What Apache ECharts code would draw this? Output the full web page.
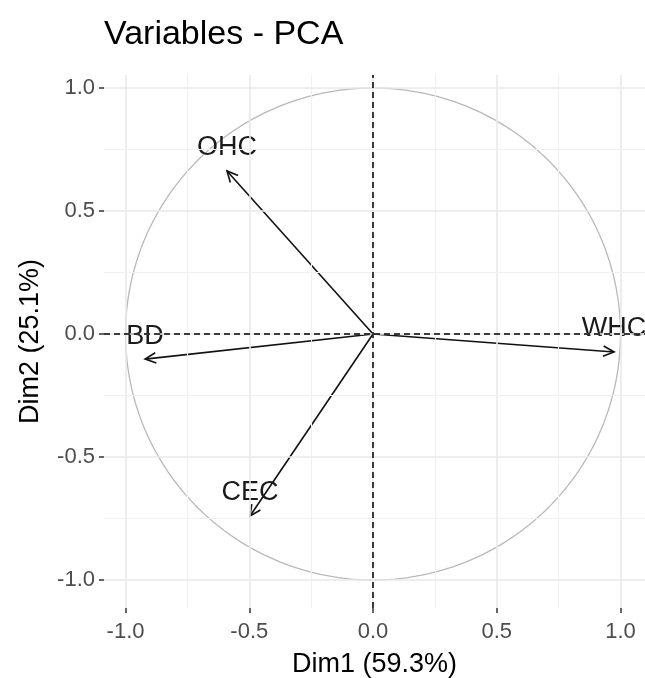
<!DOCTYPE html>
<html>
<head>
<meta charset="utf-8">
<script src="https://cdn.jsdelivr.net/npm/echarts@6/dist/echarts.min.js"></script>
<style>
html,body{margin:0;padding:0;background:#fff}
#main{width:645px;height:678px}
</style>
</head>
<body>
<div id="main"></div>
<script>
// === 資料 ===
const varNames=['OHC','BD','WHC','CEC'];
const dim1=[-0.59,-0.921,0.974,-0.497];
const dim2=[0.663,-0.102,-0.073,-0.74];
const majorTicks=[-1,-0.5,0,0.5,1];
const minorTicks=[-0.75,-0.25,0.25,0.75];

const FONT='"Liberation Sans", Arial, sans-serif';

// 相關圓 (半徑 1)
const circlePts=[];
for(let i=0;i<=360;i++){
  const a=i*Math.PI/180;
  circlePts.push([Math.cos(a),Math.sin(a)]);
}

function gridMarks(axisKey){
  const out=[];
  minorTicks.forEach(v=>out.push({[axisKey]:v,lineStyle:{color:'#f0f0f0',width:1,type:'solid'}}));
  majorTicks.forEach(v=>out.push({[axisKey]:v,lineStyle:{color:'#e9e9e9',width:1.6,type:'solid'}}));
  return out;
}

function axisCommon(){
  return {
    type:'value',
    axisLine:{show:false,onZero:false},
    axisTick:{show:true,inside:false,length:5,customValues:majorTicks,lineStyle:{color:'#333',width:1.5}},
    axisLabel:{customValues:majorTicks,color:'#4d4d4d',fontFamily:FONT,fontSize:22,
      formatter:v=>v.toFixed(1)},
    splitLine:{show:false},
    nameLocation:'middle',
    nameTextStyle:{color:'#000',fontFamily:FONT,fontSize:27}
  };
}

const chart=echarts.init(document.getElementById('main'),null,{renderer:'canvas'});
chart.setOption({
  animation:false,
  title:{text:'Variables - PCA',left:99,top:13,
    textStyle:{color:'#000',fontFamily:FONT,fontSize:34,fontWeight:'normal'}},
  grid:{left:104,right:0,top:75,bottom:70,containLabel:false,outerBoundsMode:'none'},
  xAxis:Object.assign(axisCommon(),{min:-1.087,max:1.099,name:'Dim1 (59.3%)',nameGap:43,
    axisLabel:Object.assign(axisCommon().axisLabel,{margin:13})}),
  yAxis:Object.assign(axisCommon(),{min:-1.114,max:1.053,name:'Dim2 (25.1%)',nameGap:60,
    axisLabel:Object.assign(axisCommon().axisLabel,{margin:9})}),
  series:[
    {type:'line',data:[],z:1,silent:true,
      markLine:{silent:true,symbol:['none','none'],label:{show:false},
        data:gridMarks('xAxis').concat(gridMarks('yAxis'))}},
    {type:'line',data:circlePts,showSymbol:false,z:2,silent:true,
      lineStyle:{color:'#b8b8b8',width:1.3}},
    {type:'line',data:[],z:3,silent:true,
      markLine:{silent:true,symbol:['none','none'],label:{show:false},
        lineStyle:{color:'#000',width:1.5,type:[6,4]},
        data:[{xAxis:0},{yAxis:0}]}},
    {type:'custom',z:4,silent:true,
      data:varNames.map((n,i)=>({name:n,value:[dim1[i],dim2[i]]})),
      encode:{x:0,y:1},
      renderItem:function(params,api){
        const o=api.coord([0,0]);
        const p=api.coord([api.value(0),api.value(1)]);
        const ang=Math.atan2(p[1]-o[1],p[0]-o[0]);
        const L=12,h=Math.PI/7;
        const h1=[p[0]-L*Math.cos(ang-h),p[1]-L*Math.sin(ang-h)];
        const h2=[p[0]-L*Math.cos(ang+h),p[1]-L*Math.sin(ang+h)];
        const st={stroke:'#111',lineWidth:1.6,fill:null};
        return {type:'group',children:[
          {type:'line',shape:{x1:o[0],y1:o[1],x2:p[0],y2:p[1]},style:st},
          {type:'polyline',shape:{points:[h1,p,h2]},style:st},
          {type:'text',x:p[0],y:p[1]-23,style:{text:varNames[params.dataIndex],
            fill:'#1a1a1a',font:'27px '+FONT,align:'center',verticalAlign:'middle'}}
        ]};
      }}
  ]
});
</script>
</body>
</html>
